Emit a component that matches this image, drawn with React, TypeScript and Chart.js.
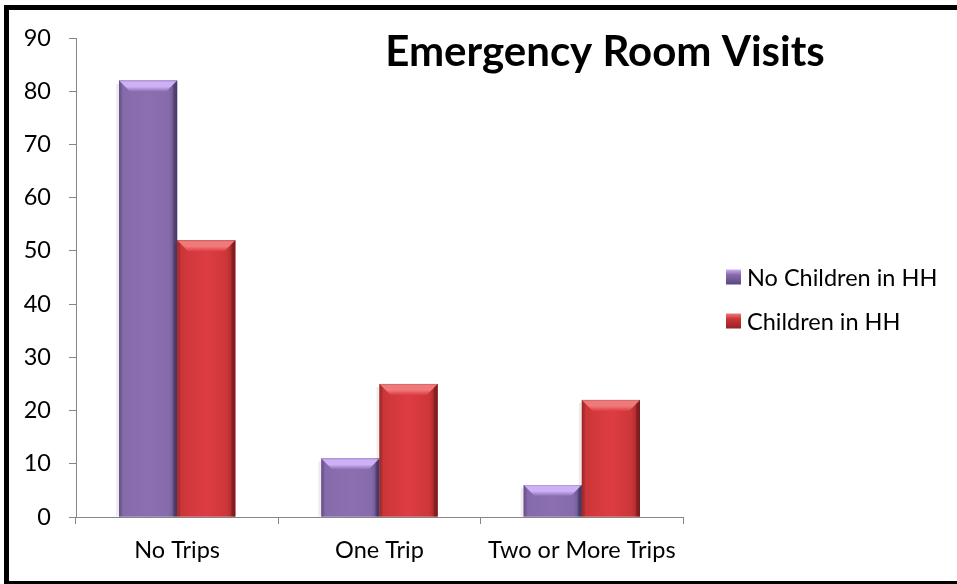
import React, { useEffect, useRef } from "react";
import { Chart, registerables } from "chart.js";

Chart.register(...registerables);

const categories = ["No Trips", "One Trip", "Two or More Trips"];
const seriesNames = ["No Children in HH", "Children in HH"];
const noChildrenInHH = [82, 11, 6];
const childrenInHH = [52, 25, 22];
const yMin = 0;
const yMax = 90;
const yStep = 10;
const chartTitle = "Emergency Room Visits";

const FONT = "Lato, 'Noto Sans', 'DejaVu Sans', sans-serif";
const LABEL_SIZE = 23.5;

const palettes = [
  { base: "#866BAB", mid: "#8B6FB1", light: "#CDB0F6", dark: "#5B4680", shade: "#74599A" },
  { base: "#CC3638", mid: "#DE3C44", light: "#F07A7A", dark: "#962224", shade: "#AE2B2D" },
];

const bevelPlugin = {
  id: "bevelBars",
  afterDatasetsDraw(chart: any) {
    const ctx: CanvasRenderingContext2D = chart.ctx;
    chart.data.datasets.forEach((_ds: any, di: number) => {
      const meta = chart.getDatasetMeta(di);
      const pal = palettes[di];
      meta.data.forEach((bar: any) => {
        const { x, y, base, width } = bar.getProps(["x", "y", "base", "width"], true);
        const l = x - width / 2;
        const r = x + width / 2;
        const t = Math.min(y, base);
        const b = Math.max(y, base);
        const h = b - t;
        if (h <= 0) return;
        const bv = Math.min(11, h / 2, width / 3);
        ctx.save();
        // soft shadow on the left
        ctx.fillStyle = "rgba(0,0,0,0.07)";
        ctx.fillRect(l - 3, t + 3, 3, h - 3);
        // body with horizontal shading
        const g = ctx.createLinearGradient(l, 0, r, 0);
        g.addColorStop(0, pal.shade);
        g.addColorStop(0.07, pal.base);
        g.addColorStop(0.5, pal.mid);
        g.addColorStop(0.86, pal.base);
        g.addColorStop(1, pal.dark);
        ctx.fillStyle = g;
        ctx.fillRect(l, t, width, h);
        // top bevel
        const gt = ctx.createLinearGradient(0, t, 0, t + bv);
        gt.addColorStop(0, pal.light);
        gt.addColorStop(0.55, pal.light);
        gt.addColorStop(1, pal.mid);
        ctx.fillStyle = gt;
        ctx.beginPath();
        ctx.moveTo(l, t);
        ctx.lineTo(r, t);
        ctx.lineTo(r - bv, t + bv);
        ctx.lineTo(l + bv, t + bv);
        ctx.closePath();
        ctx.fill();
        // right darker bevel strip
        ctx.fillStyle = "rgba(0,0,0,0.2)";
        ctx.beginPath();
        ctx.moveTo(r, t);
        ctx.lineTo(r, b);
        ctx.lineTo(r - 4, b);
        ctx.lineTo(r - 4, t + 4);
        ctx.closePath();
        ctx.fill();
        // left subtle strip
        ctx.fillStyle = "rgba(0,0,0,0.08)";
        ctx.beginPath();
        ctx.moveTo(l, t);
        ctx.lineTo(l + 3, t + 3);
        ctx.lineTo(l + 3, b);
        ctx.lineTo(l, b);
        ctx.closePath();
        ctx.fill();
        // thin top edge
        ctx.fillStyle = "rgba(0,0,0,0.12)";
        ctx.fillRect(l, t, width, 1);
        ctx.restore();
      });
    });
  },
};

const textPlugin = {
  id: "titleAndLegend",
  afterDraw(chart: any) {
    const ctx: CanvasRenderingContext2D = chart.ctx;
    const area = chart.chartArea;
    ctx.save();
    // title inside plot area
    ctx.fillStyle = "#000000";
    ctx.font = `bold 42px ${FONT}`;
    ctx.textAlign = "center";
    ctx.textBaseline = "alphabetic";
    ctx.fillText(chartTitle, area.right - 78, 66);
    // legend
    ctx.font = `${LABEL_SIZE}px ${FONT}`;
    ctx.textAlign = "left";
    ctx.textBaseline = "middle";
    const lx = area.right + 43;
    const ys = [277, 321];
    chart.data.datasets.forEach((ds: any, i: number) => {
      const pal = palettes[i];
      const cy = ys[i];
      const s = 15;
      const g = ctx.createLinearGradient(0, cy - s / 2, 0, cy + s / 2);
      g.addColorStop(0, pal.light);
      g.addColorStop(0.35, pal.base);
      g.addColorStop(1, pal.dark);
      ctx.fillStyle = g;
      ctx.fillRect(lx, cy - s / 2, s, s);
      ctx.fillStyle = "#000000";
      ctx.fillText(ds.label, lx + 21, cy + 1);
    });
    ctx.restore();
  },
};

export default function App() {
  const ref = useRef<HTMLCanvasElement | null>(null);

  useEffect(() => {
    if (!ref.current) return;
    const chart = new Chart(ref.current, {
      type: "bar",
      data: {
        labels: categories,
        datasets: [
          {
            label: seriesNames[0],
            data: noChildrenInHH,
            backgroundColor: palettes[0].base,
            categoryPercentage: 0.575,
            barPercentage: 1,
          },
          {
            label: seriesNames[1],
            data: childrenInHH,
            backgroundColor: palettes[1].base,
            categoryPercentage: 0.575,
            barPercentage: 1,
          },
        ],
      },
      options: {
        animation: false,
        responsive: false,
        maintainAspectRatio: false,
        devicePixelRatio: 1,
        layout: { padding: { left: 0, right: 274, top: 38, bottom: 0 } },
        plugins: {
          legend: { display: false },
          title: { display: false },
          tooltip: { enabled: false },
        },
        scales: {
          x: {
            offset: true,
            grid: {
              offset: true,
              drawOnChartArea: false,
              drawTicks: true,
              tickLength: 7,
              color: "#868686",
              lineWidth: 1,
            },
            border: { display: true, color: "#868686", width: 1 },
            ticks: {
              color: "#000000",
              font: { family: FONT, size: LABEL_SIZE },
              padding: 12,
              maxRotation: 0,
              autoSkip: false,
            },
            afterFit: (scale: any) => {
              scale.height = 67;
            },
          },
          y: {
            min: yMin,
            max: yMax,
            grid: {
              drawOnChartArea: false,
              drawTicks: true,
              tickLength: 7,
              color: "#868686",
              lineWidth: 1,
            },
            border: { display: true, color: "#868686", width: 1 },
            ticks: {
              stepSize: yStep,
              color: "#000000",
              font: { family: FONT, size: LABEL_SIZE },
              padding: 18,
            },
            afterFit: (scale: any) => {
              scale.width = 76;
            },
          },
        },
      },
      plugins: [bevelPlugin, textPlugin],
    });
    return () => chart.destroy();
  }, []);

  return (
    <div
      style={{
        position: "fixed",
        left: 0,
        top: 0,
        width: 957,
        height: 584,
        background: "#ffffff",
        overflow: "hidden",
      }}
    >
      <canvas ref={ref} width={957} height={584} style={{ display: "block", width: 957, height: 584 }} />
      <div
        style={{
          position: "absolute",
          left: 4,
          top: 5,
          width: 970,
          height: 581,
          boxSizing: "border-box",
          border: "5px solid #000000",
          pointerEvents: "none",
        }}
      />
    </div>
  );
}
